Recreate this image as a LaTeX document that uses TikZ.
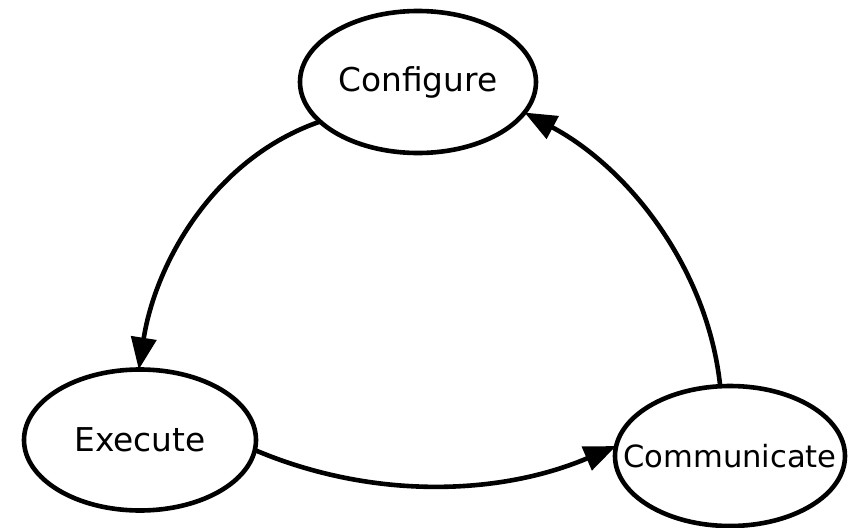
\documentclass[tikz,border=0pt]{standalone}
\usepackage{fontspec}
\setmainfont{DejaVu Sans}
\usetikzlibrary{shapes.geometric,arrows.meta}
\begin{document}
\begin{tikzpicture}[x=0.5pt,y=0.5pt,>={Triangle[length=16pt,width=12.5pt]}]
    \tikzstyle{stage} = [draw,ellipse,line width=2.3pt,inner sep=0pt,outer sep=0pt,
                         font=\fontsize{16.4pt}{19pt}\selectfont]
    \tikzstyle{flow} = [->,line width=2.3pt]
    \useasboundingbox (0,0) rectangle (848,527);

    % the three stages
    \node[stage,minimum width=118pt,minimum height=71pt] (conf) at (418,445) {Configure};
    \node[stage,minimum width=116pt,minimum height=70.5pt] (exec) at (140,87) {Execute};
    \node[stage,minimum width=115pt,minimum height=70pt,
          font=\fontsize{15.3pt}{18pt}\selectfont] (comm) at (730,71)
          {\makebox[0pt][c]{Communicate}};

    % the cycle
    \draw[flow] (conf.202) to[out=199,in=81,looseness=0.92] (exec.91);
    \draw[flow] (exec.-5) to[out=-23,in=203,looseness=0.9] (comm.175);
    \draw[flow] (comm.98) to[out=96,in=-28,looseness=0.9] (conf.-16);
\end{tikzpicture}
\end{document}
